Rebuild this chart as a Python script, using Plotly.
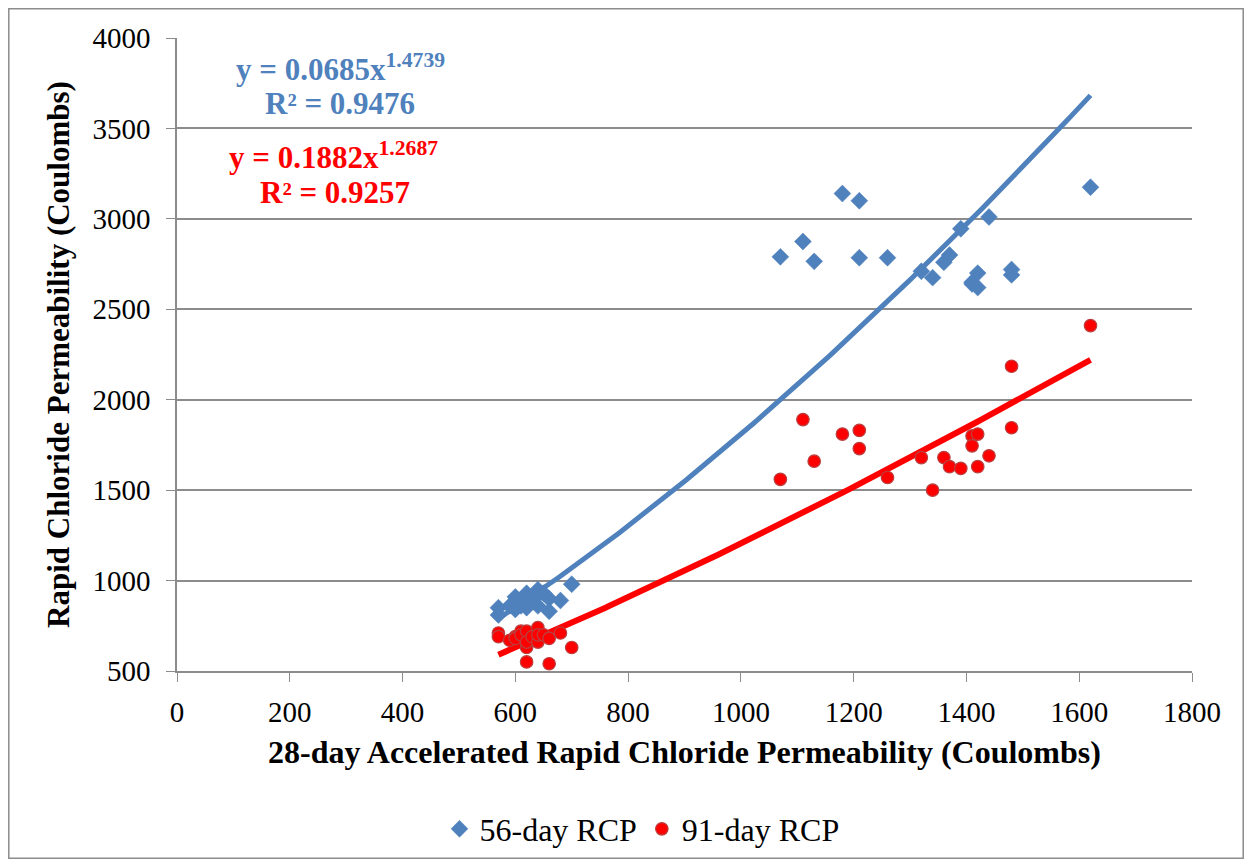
import numpy as np
import plotly.graph_objects as go

# ---- data ----
x_low = [570, 570, 590, 600, 600, 610, 610, 620, 620, 620, 620, 630, 640, 640, 640, 650, 660, 660, 680, 700]
rcp56_low = [850, 810, 860, 910, 840, 870, 860, 930, 850, 880, 900, 900, 950, 860, 920, 930, 900, 830, 890, 980]
rcp91_low = [710, 690, 670, 690, 680, 720, 700, 720, 550, 630, 660, 690, 740, 660, 700, 700, 680, 540, 710, 630]

x_high = [1070, 1110, 1130, 1180, 1210, 1210, 1260, 1320, 1340, 1360, 1370, 1390, 1440, 1410, 1410, 1420, 1420, 1480, 1480, 1620]
rcp56_high = [2790, 2875, 2765, 3140, 3100, 2785, 2785, 2710, 2675, 2760, 2800, 2945, 3010, 2650, 2640, 2700, 2620, 2720, 2690, 3175]
rcp91_high = [1560, 1890, 1660, 1810, 1830, 1730, 1570, 1680, 1500, 1680, 1630, 1620, 1690, 1800, 1745, 1810, 1630, 1845, 2185, 2410]

x_all = x_low + x_high
rcp56 = rcp56_low + rcp56_high
rcp91 = rcp91_low + rcp91_high

# power trendlines as displayed on the chart
a56, b56 = 0.0685, 1.4739
a91, b91 = 0.1882, 1.2687

xt = np.linspace(min(x_all), max(x_all), 200)
fit56 = a56 * xt ** b56
fit91 = a91 * xt ** b91

BLUE = "#4F81BD"
RED = "#FF0000"
FONT = "Liberation Serif, Times New Roman, serif"

fig = go.Figure()
fig.add_trace(go.Scatter(x=xt, y=fit56, mode="lines", line=dict(color=BLUE, width=5),
                         showlegend=False, hoverinfo="skip"))
fig.add_trace(go.Scatter(x=xt, y=fit91, mode="lines", line=dict(color=RED, width=6),
                         showlegend=False, hoverinfo="skip"))
fig.add_trace(go.Scatter(x=x_all, y=rcp56, mode="markers", name="56-day RCP",
                         marker=dict(symbol="diamond", size=13, color=BLUE,
                                     line=dict(width=0.5, color=BLUE))))
fig.add_trace(go.Scatter(x=x_all, y=rcp91, mode="markers", name="91-day RCP",
                         marker=dict(symbol="circle", size=12.5, color=RED,
                                     line=dict(width=1.2, color="#B94040"))))

# page has an 8px body margin: convert page pixel positions to figure positions
OFF = 8
W, H = 1252 - 2 * OFF, 867 - 2 * OFF
L, R, T, B = 177 - OFF, 1192 - OFF, 38 - OFF, 671 - OFF
pw, ph = R - L, B - T


def px(xp):
    return (xp - OFF - L) / pw


def py(yp):
    return (B - (yp - OFF)) / ph


def fx(xf):
    return (xf - L) / pw


def fy(yf):
    return (B - yf) / ph


annotations = [
    dict(text="<b>y = 0.0685x<sup>1.4739</sup></b>", x=px(340), y=py(67), font=dict(color=BLUE, size=31)),
    dict(text="<b>R² = 0.9476</b>", x=px(340), y=py(104), font=dict(color=BLUE, size=31)),
    dict(text="<b>y = 0.1882x<sup>1.2687</sup></b>", x=px(333), y=py(156), font=dict(color=RED, size=31)),
    dict(text="<b>R² = 0.9257</b>", x=px(335), y=py(192), font=dict(color=RED, size=31)),
]
for a in annotations:
    a.update(xref="paper", yref="paper", showarrow=False, xanchor="center", yanchor="middle")
    a["font"]["family"] = FONT

fig.update_layout(
    width=W, height=H,
    margin=dict(l=L, r=W - R, t=T, b=H - B, autoexpand=False),
    paper_bgcolor="white", plot_bgcolor="white",
    font=dict(family=FONT, size=29, color="black"),
    annotations=annotations,
    legend=dict(orientation="h", x=px(642), y=py(829), xanchor="center", yanchor="middle",
                font=dict(size=32, family=FONT), itemwidth=30, tracegroupgap=0),
    shapes=[dict(type="rect", xref="paper", yref="paper",
                 x0=fx(0.8), x1=fx(W - 0.8), y0=fy(H - 0.8), y1=fy(0.8),
                 line=dict(color="#8C8C8C", width=1.5), fillcolor="rgba(0,0,0,0)", layer="below")],
)
fig.update_xaxes(range=[0, 1800], dtick=200, tick0=0, showgrid=False, zeroline=False,
                 showline=True, linecolor="#8C8C8C", linewidth=1.5, automargin=False,
                 ticks="outside", tickcolor="#8C8C8C", ticklen=9, ticklabelstandoff=5,
                 tickfont=dict(size=29, family=FONT),
                 title=dict(text="<b>28-day Accelerated Rapid Chloride Permeability (Coulombs)</b>",
                            font=dict(size=32, family=FONT), standoff=14))
fig.update_yaxes(range=[500, 4000], dtick=500, tick0=500, showgrid=True, gridcolor="#8C8C8C", gridwidth=1.5,
                 zeroline=False, showline=True, linecolor="#8C8C8C", linewidth=1.5, automargin=False,
                 ticks="outside", tickcolor="#8C8C8C", ticklen=9, ticklabelstandoff=10,
                 tickfont=dict(size=29, family=FONT),
                 title=dict(text="<b>Rapid Chloride Permeability (Coulombs)</b>",
                            font=dict(size=31, family=FONT), standoff=14))

fig.write_html("out.html")
